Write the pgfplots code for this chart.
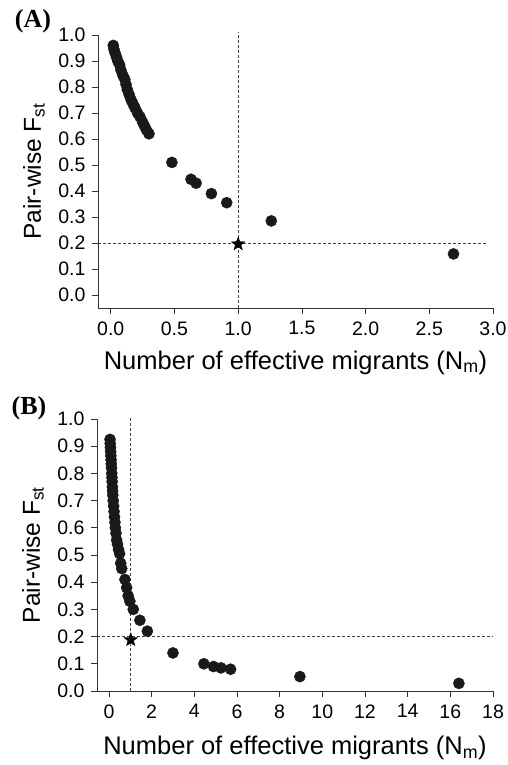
\documentclass[border=0pt]{standalone}
\usepackage{fontspec}
\setmainfont{Liberation Sans}
\newfontfamily\panelfont{Liberation Serif}
\usepackage{pgfplots}
\pgfplotsset{compat=1.18}
\pgfdeclareplotmark{fstar}{%
  \pgfpathmoveto{\pgfpointpolar{90}{\pgfplotmarksize}}%
  \pgfpathlineto{\pgfpointpolar{126}{0.42\pgfplotmarksize}}%
  \pgfpathlineto{\pgfpointpolar{162}{\pgfplotmarksize}}%
  \pgfpathlineto{\pgfpointpolar{198}{0.42\pgfplotmarksize}}%
  \pgfpathlineto{\pgfpointpolar{234}{\pgfplotmarksize}}%
  \pgfpathlineto{\pgfpointpolar{270}{0.42\pgfplotmarksize}}%
  \pgfpathlineto{\pgfpointpolar{306}{\pgfplotmarksize}}%
  \pgfpathlineto{\pgfpointpolar{342}{0.42\pgfplotmarksize}}%
  \pgfpathlineto{\pgfpointpolar{18}{\pgfplotmarksize}}%
  \pgfpathlineto{\pgfpointpolar{54}{0.42\pgfplotmarksize}}%
  \pgfpathclose
  \pgfusepathqfillstroke}
\pgfplotsset{
  panel/.style={
    scale only axis,
    axis lines=left,
    axis line style={-, line width=0.6pt, black!80},
    tick style={line width=0.6pt, black!80},
    tick align=outside,
    major tick length=6pt,
    clip=false,
    /pgf/number format/assume math mode=true,
    tick label style={font=\fontsize{19.5}{21}\selectfont},
    xticklabel style={yshift=-4pt},
    yticklabel style={xshift=-3pt, /pgf/number format/.cd, fixed, fixed zerofill, precision=1},
    ytick={0,0.1,...,1.0},
    ylabel={Pair-wise F\textsubscript{st}},
    xlabel={Number of effective migrants (N\textsubscript{m})},
    xlabel style={font=\fontsize{25.5}{27}\selectfont},
    ylabel style={font=\fontsize{24.5}{26}\selectfont, at={(axis description cs:-0.162,0.5)}, anchor=center, rotate=0},
  },
  dots/.style={only marks, mark=*, mark size=5.6pt, mark options={fill=black!90, draw=black!90}},
  refline/.style={densely dashed, line width=0.5pt, black!75},
}
\begin{document}
\begin{tikzpicture}
\path[use as bounding box] (0,0) rectangle (508pt,765pt);
\node[font=\panelfont\bfseries\fontsize{26}{28}\selectfont] at (33pt,744pt) {(A)};
\node[font=\panelfont\bfseries\fontsize{26}{28}\selectfont] at (29pt,357pt) {(B)};
\begin{axis}[panel,
  at={(98pt,457pt)}, anchor=south west,
  width=395pt, height=273pt,
  xmin=-0.1, xmax=3, ymin=-0.05, ymax=1,
  xtick={0,0.5,...,3.0},
  xticklabel style={/pgf/number format/.cd, fixed, fixed zerofill, precision=1},
  xlabel style={at={(axis description cs:0.5,-0.2)}, anchor=center},
]
\addplot[refline] coordinates {(1,-0.05) (1,1.01)};
\addplot[refline] coordinates {(-0.1,0.2) (2.95,0.2)};
\addplot[dots] coordinates {
(0.02,0.96) (0.025,0.945) (0.035,0.93) (0.045,0.915) (0.055,0.90) (0.07,0.885)
(0.08,0.865) (0.095,0.845) (0.11,0.83) (0.12,0.81) (0.13,0.79) (0.145,0.77)
(0.16,0.75) (0.175,0.735) (0.19,0.72) (0.21,0.70) (0.23,0.685) (0.25,0.665)
(0.265,0.65) (0.28,0.635) (0.30,0.62)
(0.48,0.51) (0.63,0.445) (0.67,0.43) (0.79,0.39) (0.91,0.355) (1.26,0.285) (2.69,0.158)
};
\addplot[only marks, mark=fstar, mark size=7pt, mark options={fill=black, draw=black}] coordinates {(1.0,0.196)};
\end{axis}
\begin{axis}[panel,
  at={(97pt,74pt)}, anchor=south west,
  width=396pt, height=272pt,
  xmin=-0.56, xmax=18, ymin=0, ymax=1,
  xtick={0,2,...,18},
  xlabel style={at={(axis description cs:0.5,-0.21)}, anchor=center},
]
\addplot[refline] coordinates {(1,0) (1,1.01)};
\addplot[refline] coordinates {(-0.56,0.2) (18,0.2)};
\addplot[dots] coordinates {
(0.05,0.925) (0.06,0.91) (0.07,0.895) (0.08,0.88) (0.09,0.865) (0.10,0.85)
(0.11,0.835) (0.12,0.82) (0.13,0.80) (0.14,0.785) (0.15,0.77) (0.16,0.75)
(0.17,0.735) (0.18,0.72) (0.20,0.70) (0.22,0.68) (0.24,0.66) (0.26,0.64)
(0.28,0.62) (0.30,0.60) (0.33,0.58) (0.36,0.555) (0.40,0.54) (0.45,0.52)
(0.50,0.505) (0.55,0.47) (0.60,0.45) (0.75,0.41) (0.83,0.38) (0.90,0.35)
(0.98,0.33) (1.14,0.30) (1.45,0.26) (1.8,0.22) (3.0,0.14) (4.45,0.10)
(4.9,0.09) (5.25,0.085) (5.7,0.08) (8.95,0.053) (16.4,0.028)
};
\addplot[only marks, mark=fstar, mark size=7pt, mark options={fill=black, draw=black}] coordinates {(1.02,0.188)};
\end{axis}
\end{tikzpicture}
\end{document}
